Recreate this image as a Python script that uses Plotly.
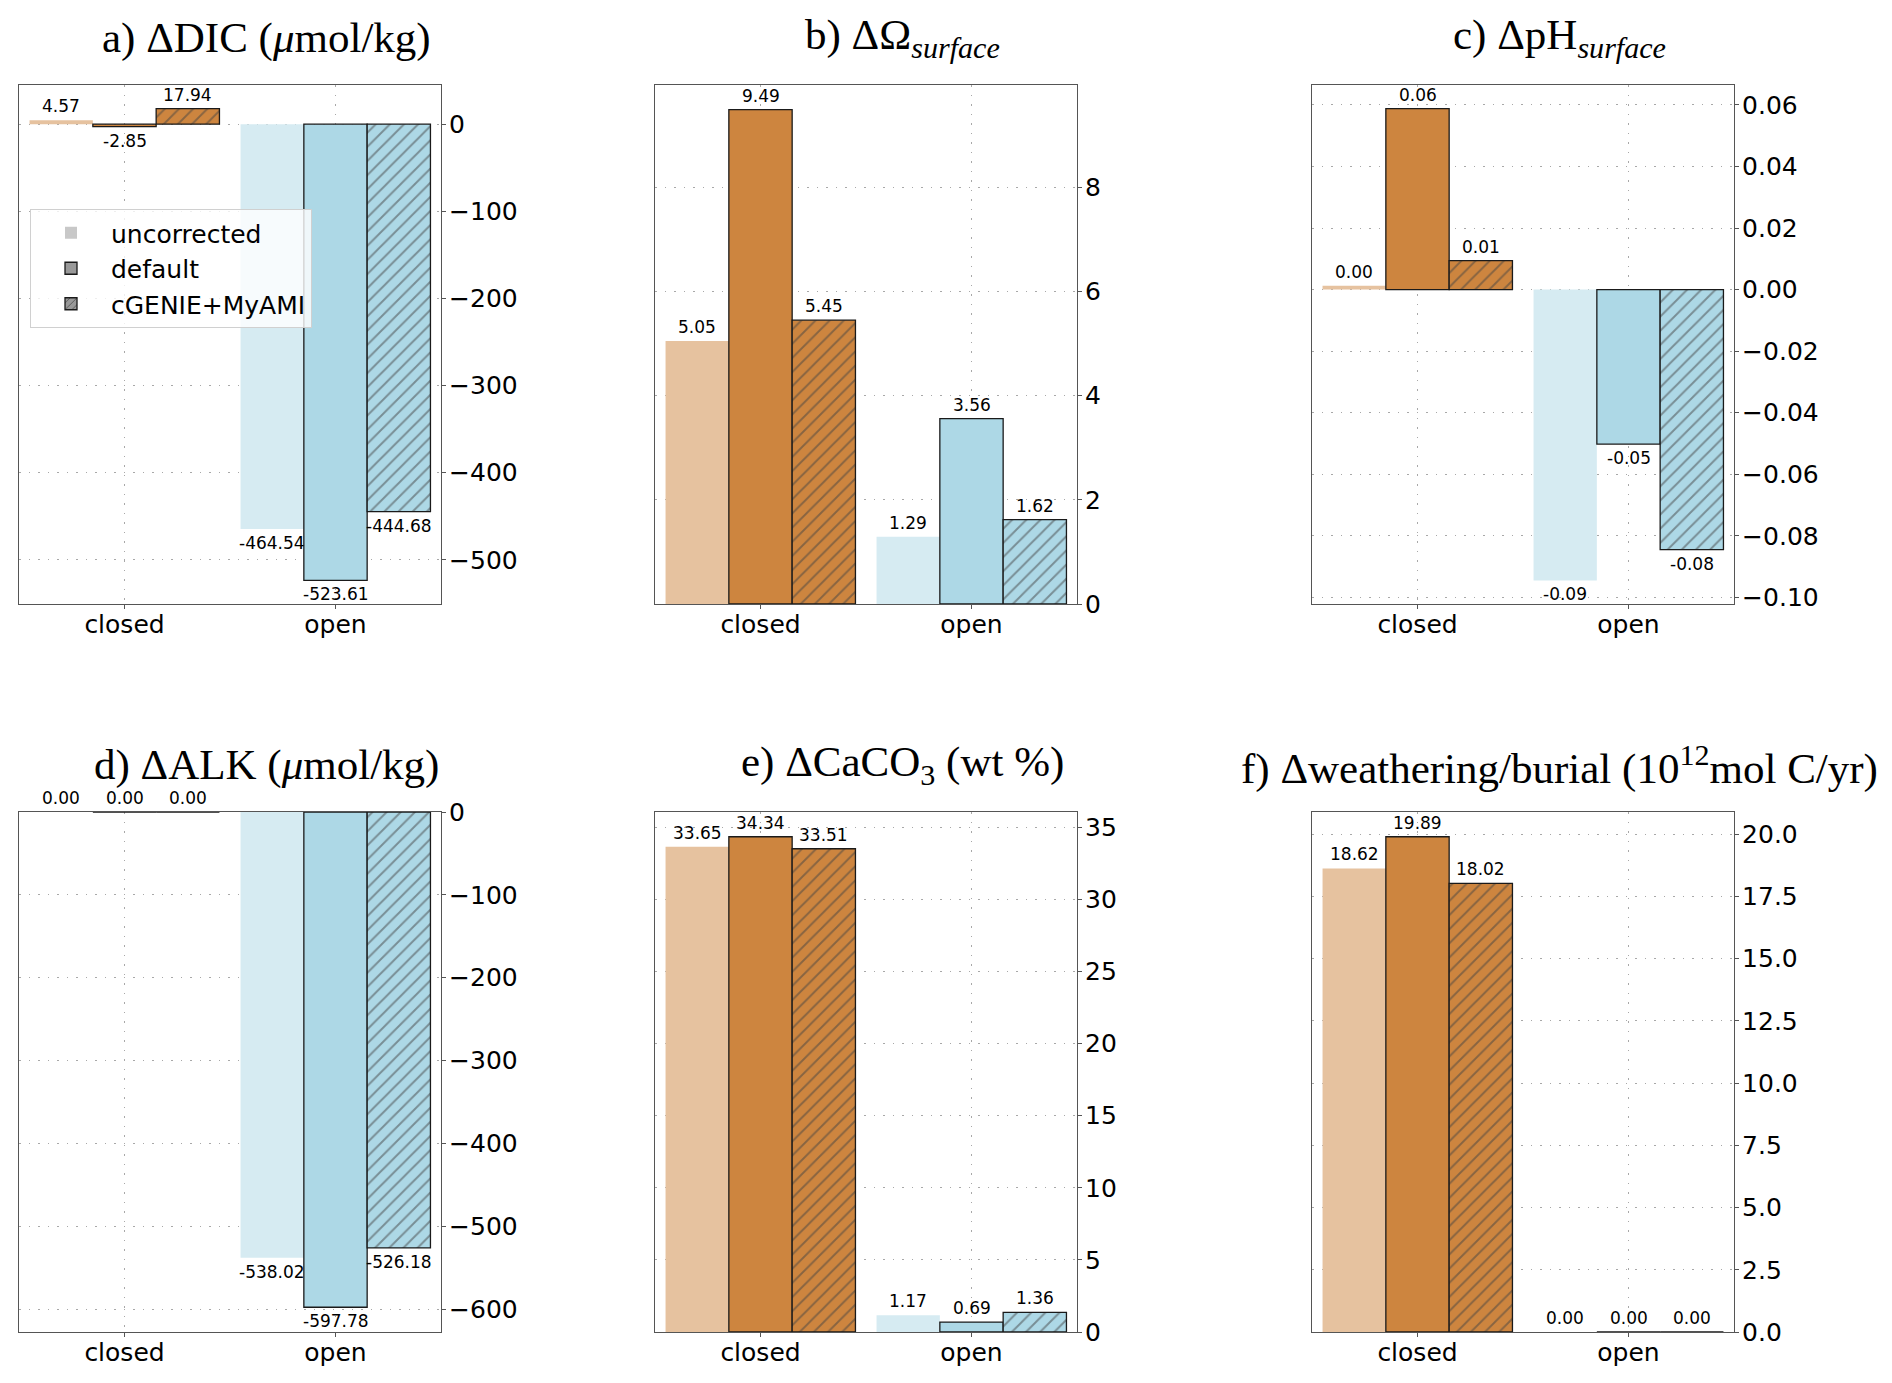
import plotly.graph_objects as go

# categories and series
categories = ['closed', 'open']
series_names = ['uncorrected', 'default', 'cGENIE+MyAMI']

# a) DIC
dic_uncorr = [4.57, -464.54]
dic_default = [-2.85, -523.61]
dic_myami = [17.94, -444.68]
# b) Omega surface
omega_uncorr = [5.05, 1.29]
omega_default = [9.49, 3.56]
omega_myami = [5.45, 1.62]
# c) pH surface
ph_uncorr = [0.0012, -0.0945]
ph_default = [0.0588, -0.0502]
ph_myami = [0.0094, -0.0845]
# d) ALK
alk_uncorr = [0.0, -538.02]
alk_default = [0.0, -597.78]
alk_myami = [0.0, -526.18]
# e) CaCO3
caco3_uncorr = [33.65, 1.17]
caco3_default = [34.34, 0.69]
caco3_myami = [33.51, 1.36]
# f) weathering / burial
weath_uncorr = [18.62, 0.0]
weath_default = [19.89, 0.0]
weath_myami = [18.02, 0.0]

panels = [
    ('a) ΔDIC (<i>μ</i>mol/kg)', [dic_uncorr, dic_default, dic_myami], 100, None),
    ('b) ΔΩ<sub><i>surface</i></sub>', [omega_uncorr, omega_default, omega_myami], 2, None),
    ('c) ΔpH<sub><i>surface</i></sub>', [ph_uncorr, ph_default, ph_myami], 0.02, '.2f'),
    ('d) ΔALK (<i>μ</i>mol/kg)', [alk_uncorr, alk_default, alk_myami], 100, None),
    ('e) ΔCaCO<sub>3</sub> (wt %)', [caco3_uncorr, caco3_default, caco3_myami], 5, None),
    ('f) Δweathering/burial (10<sup>12</sup>mol C/yr)', [weath_uncorr, weath_default, weath_myami], 2.5, '.1f'),
]

# colours per category (closed, open)
uncorr_colors = ['#e6c29f', '#d6ebf2']
main_colors = ['#cd853f', '#add8e6']
EDGE = '#1a1a1a'
W = 1892
H = 1383

BAR_W = 0.3
OFFSETS = [-0.45, -0.15, 0.15]

# axes boxes in pixels (left, right, top, bottom)
col_px = [(19, 441), (655, 1077), (1312, 1734)]
row_px = [(85, 604), (812, 1332)]

fig = go.Figure()
annotations = []
xpos = list(range(len(categories)))

for k, (title, series, dtick, tfmt) in enumerate(panels):
    n = k + 1
    xa = 'x' if n == 1 else f'x{n}'
    ya = 'y' if n == 1 else f'y{n}'
    r, c = divmod(k, 3)
    l_px, r_px = col_px[c]
    t_px, b_px = row_px[r]

    for s, vals in enumerate(series):
        if s == 0:
            marker = dict(color=uncorr_colors, line=dict(width=0))
        else:
            marker = dict(color=main_colors, line=dict(width=1.3, color=EDGE))
            if s == 2:
                marker['pattern'] = dict(shape='/', fgcolor=EDGE, size=10, solidity=0.2)
        fig.add_trace(go.Bar(
            x=xpos, y=vals, offset=OFFSETS[s], width=BAR_W,
            marker=marker, showlegend=False, xaxis=xa, yaxis=ya,
            hoverinfo='y',
        ))
        for i, v in enumerate(vals):
            annotations.append(dict(
                x=xpos[i] + OFFSETS[s] + BAR_W / 2, y=v, xref=xa, yref=ya,
                text=f'{v:.2f}', showarrow=False,
                yanchor='bottom' if v >= 0 else 'top',
                yshift=2 if v >= 0 else -2,
                font=dict(family='DejaVu Sans', size=17, color='black'),
            ))

    allv = [v for vals in series for v in vals]
    lo = min(0, min(allv))
    hi = max(0, max(allv))
    m = 0.05 * (hi - lo)
    yrange = [lo - m if lo < 0 else 0, hi + m if hi > 0 else 0]

    xdom = [l_px / W, r_px / W]
    ydom = [1 - b_px / H, 1 - t_px / H]
    common = dict(showline=True, mirror=True, linecolor='#555555', linewidth=1.2,
                  ticks='outside', ticklen=4, tickcolor='#555555',
                  tickfont=dict(family='DejaVu Sans', size=25, color='black'),
                  showgrid=True, gridcolor='#a8a8a8', griddash='1.5px,8px', gridwidth=1.3,
                  zeroline=False, automargin=False)
    fig.update_layout({
        ('xaxis' if n == 1 else f'xaxis{n}'): dict(
            domain=xdom, anchor=ya, range=[-0.5, 1.5],
            tickvals=xpos, ticktext=categories, ticklabelstandoff=-6, **common),
        ('yaxis' if n == 1 else f'yaxis{n}'): dict(
            domain=ydom, anchor=xa, side='right', range=yrange, dtick=dtick,
            tickformat=tfmt, ticklabelstandoff=-2, **common),
    })

    annotations.append(dict(
        x=((l_px + r_px) / 2 + 36) / W, y=1 - (38 + 727 * r) / H,
        xref='paper', yref='paper', xanchor='center', yanchor='middle',
        text=title, showarrow=False,
        font=dict(family='Liberation Serif', size=43, color='black'),
    ))

# legend entries (grey proxies)
fig.add_trace(go.Bar(x=[None], y=[None], name=series_names[0],
                     marker=dict(color='#c8c8c8', line=dict(width=0))))
fig.add_trace(go.Bar(x=[None], y=[None], name=series_names[1],
                     marker=dict(color='#999999', line=dict(width=1.3, color=EDGE))))
fig.add_trace(go.Bar(x=[None], y=[None], name=series_names[2],
                     marker=dict(color='#999999', line=dict(width=1.3, color=EDGE),
                                 pattern=dict(shape='/', fgcolor=EDGE, size=6, solidity=0.2))))

fig.update_layout(
    width=W, height=H,
    margin=dict(l=0, r=0, t=0, b=0, pad=0),
    paper_bgcolor='white', plot_bgcolor='white',
    barmode='overlay',
    annotations=annotations,
    legend=dict(x=30 / W, y=1 - 209 / H, xanchor='left', yanchor='top',
                bgcolor='rgba(255,255,255,0.8)', bordercolor='#d0d0d0', borderwidth=1,
                font=dict(family='DejaVu Sans', size=25, color='black'),
                tracegroupgap=8, itemwidth=70),
    font=dict(family='DejaVu Sans'),
)

fig.write_html('out.html', config={'displayModeBar': False},
               post_script="document.body.style.margin='0px';")
